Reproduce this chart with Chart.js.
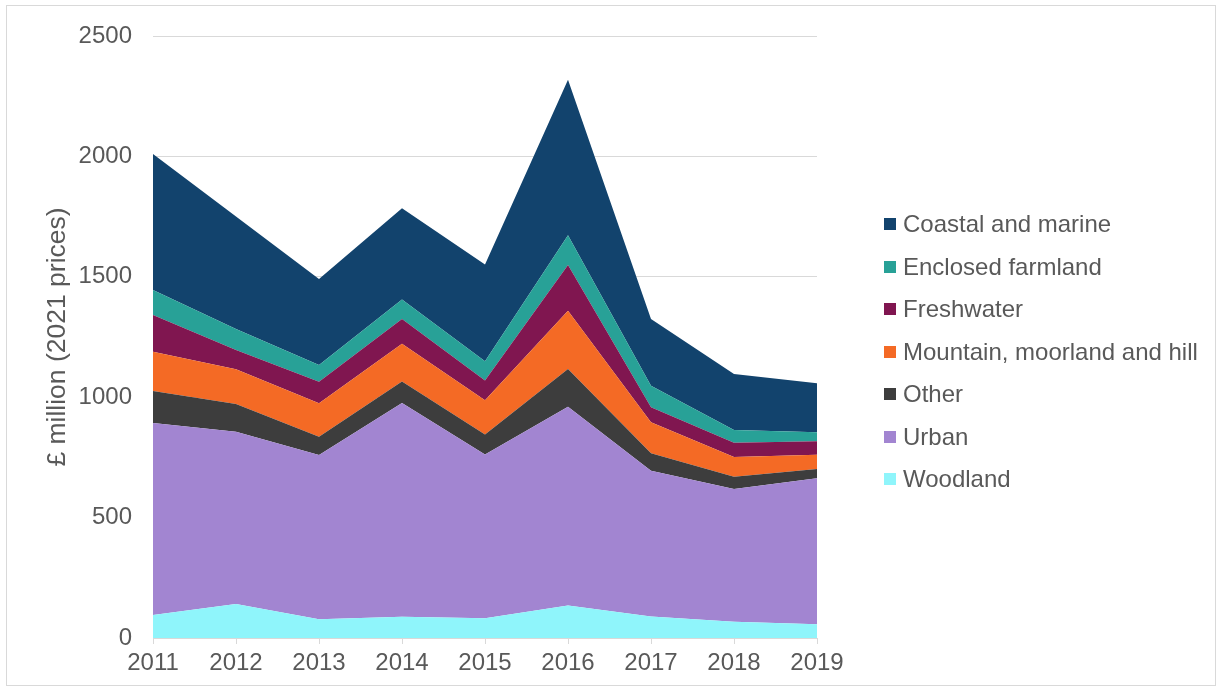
<!DOCTYPE html>
<html>
<head>
<meta charset="utf-8">
<script src="https://cdn.jsdelivr.net/npm/chart.js@4"></script>
<style>
  html, body { margin: 0; padding: 0; background: #fff; }
  #wrap { position: relative; width: 1220px; height: 690px; }
  #frame { position: absolute; left: 6px; top: 5px; width: 1208px; height: 679px; border: 1px solid #d9d9d9; }
  canvas { position: absolute; left: 0; top: 0; }
  #legend { position: absolute; left: 884px; top: 203px; font-family: "Liberation Sans", Arial, sans-serif; font-size: 24px; color: #595959; }
  .item { height: 42.5px; display: flex; align-items: center; }
  .box { width: 12px; height: 12px; margin-right: 7px; }
</style>
</head>
<body>
<div id="wrap">
  <div id="frame"></div>
  <canvas id="chart" width="1220" height="690"></canvas>
  <div id="legend"></div>
</div>
<script>
// years along the x axis
const years = ["2011", "2012", "2013", "2014", "2015", "2016", "2017", "2018", "2019"];

// £ million (2021 prices), bottom layer first
const woodland   = [96, 141, 78, 88, 82, 135, 89, 68, 57];
const urban      = [797, 716, 682, 888, 680, 825, 606, 551, 606];
const other      = [133, 115, 76, 89, 83, 157, 72, 51, 39];
const mountain   = [163, 144, 139, 157, 142, 242, 129, 82, 59];
const freshwater = [152, 80, 89, 103, 82, 190, 62, 59, 56];
const enclosed   = [104, 87, 70, 81, 80, 124, 90, 53, 37];
const coastal    = [565, 467, 357, 379, 402, 645, 277, 232, 204];

const yTicks = [0, 500, 1000, 1500, 2000, 2500];

const series = [
    { label: "Woodland", data: woodland, color: "#8ff5fb" },
    { label: "Urban", data: urban, color: "#a285d1" },
    { label: "Other", data: other, color: "#3d3d3d" },
    { label: "Mountain, moorland and hill", data: mountain, color: "#f46a25" },
    { label: "Freshwater", data: freshwater, color: "#801650" },
    { label: "Enclosed farmland", data: enclosed, color: "#28a197" },
    { label: "Coastal and marine", data: coastal, color: "#12436d" }
];

const textColor = "#595959";
const gridColor = "#d9d9d9";
const fontFamily = "'Liberation Sans', Arial, sans-serif";

const ctx = document.getElementById("chart").getContext("2d");

new Chart(ctx, {
    type: "line",
    data: {
        labels: years,
        datasets: series.map((s, i) => ({
            label: s.label,
            data: s.data,
            backgroundColor: s.color,
            borderColor: s.color,
            borderWidth: 0,
            pointRadius: 0,
            tension: 0,
            fill: i === 0 ? "origin" : "-1"
        }))
    },
    options: {
        responsive: false,
        animation: false,
        layout: { padding: { top: 36, right: 403, bottom: 0, left: 0 } },
        plugins: {
            legend: { display: false },
            tooltip: { enabled: false }
        },
        scales: {
            x: {
                offset: false,
                grid: { drawOnChartArea: false, drawTicks: true, tickLength: 6, color: gridColor },
                border: { display: true, color: gridColor, width: 1 },
                ticks: { color: textColor, font: { family: fontFamily, size: 24 }, padding: 5, maxRotation: 0 },
                afterFit: (scale) => { scale.height = 52; }
            },
            y: {
                stacked: true,
                min: 0,
                max: 2500,
                afterBuildTicks: (scale) => { scale.ticks = yTicks.map(v => ({ value: v })); },
                grid: { drawTicks: false, color: gridColor },
                border: { display: false },
                ticks: {
                    color: textColor,
                    font: { family: fontFamily, size: 24 },
                    padding: 21,
                    callback: (v) => String(v)
                },
                title: {
                    display: true,
                    text: "£ million (2021 prices)",
                    color: textColor,
                    font: { family: fontFamily, size: 26.5 },
                    padding: { top: 42, bottom: 0 }
                },
                afterFit: (scale) => { scale.width = 153; }
            }
        }
    }
});

// legend on the right, top layer first like the original
const legendEl = document.getElementById("legend");
series.slice().reverse().forEach(s => {
    const row = document.createElement("div");
    row.className = "item";
    row.innerHTML = `<span class="box" style="background:${s.color}"></span><span>${s.label}</span>`;
    legendEl.appendChild(row);
});
</script>
</body>
</html>
